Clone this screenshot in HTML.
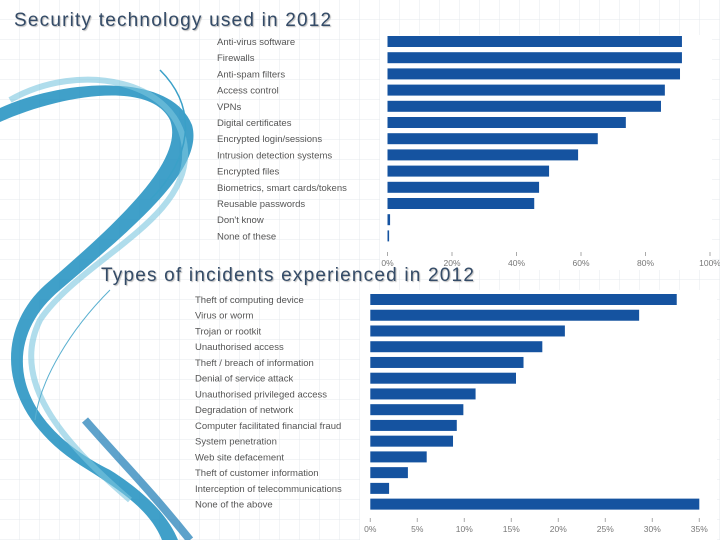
<!DOCTYPE html>
<html><head><meta charset="utf-8"><style>
body{margin:0;width:720px;height:540px;overflow:hidden;background:#fff;font-family:"Liberation Sans",sans-serif;position:relative}
#bg{position:absolute;left:0;top:0}
.title{position:absolute;font-family:"Liberation Sans",sans-serif;font-size:19px;letter-spacing:1.2px;color:#344b67;text-shadow:1px 1px 1px #bbb;white-space:nowrap}
</style></head><body>
<svg id="bg" width="720" height="540">
<defs><pattern id="g" width="20" height="20" patternUnits="userSpaceOnUse"><path d="M20 0V20H0" fill="none" stroke="#e4e8ec" stroke-width="1"/></pattern></defs>
<rect width="720" height="540" fill="url(#g)"/>
<path d="M0 108 C60 80 170 70 192 125 C205 170 130 230 60 290 C0 340 10 420 110 470 C150 495 170 520 178 540 L162 540 C150 510 120 490 80 465 C-5 410 -5 330 45 285 C120 220 185 160 170 120 C150 80 60 95 0 122 Z" fill="#1e8fc0" opacity="0.85"/>
<path d="M10 100 C80 60 180 80 185 150 C190 220 80 260 40 320 C10 380 60 440 130 500" fill="none" stroke="#7cc6e0" stroke-width="6" opacity="0.6"/>
<path d="M160 70 C200 110 190 160 150 200" fill="none" stroke="#3aa0c8" stroke-width="1.5"/>
<path d="M110 290 C70 330 40 380 35 420" fill="none" stroke="#5ab0d0" stroke-width="1"/>
<path d="M85 420 C120 460 150 490 190 540" fill="none" stroke="#1a7ab5" stroke-width="8" opacity="0.7"/>
<rect x="380" y="35" width="332" height="235" fill="#fff"/>
<rect x="360" y="290" width="357" height="250" fill="#fff"/>
</svg>
<div class="title" style="left:14px;top:10px">Security technology used in 2012</div>
<div class="title" style="left:101px;top:265px">Types of incidents experienced in 2012</div>
<svg id="c" width="720" height="540" style="position:absolute;left:0;top:0"></svg>
<script>
const techCats=["Anti-virus software","Firewalls","Anti-spam filters","Access control","VPNs","Digital certificates","Encrypted login/sessions","Intrusion detection systems","Encrypted files","Biometrics, smart cards/tokens","Reusable passwords","Don't know","None of these"];
const techVals=[91.3,91.3,90.7,86,84.8,73.9,65.2,59.1,50.1,47,45.5,0.8,0.5];
const techTicks=["0%","20%","40%","60%","80%","100%"];
const incCats=["Theft of computing device","Virus or worm","Trojan or rootkit","Unauthorised access","Theft / breach of information","Denial of service attack","Unauthorised privileged access","Degradation of network","Computer facilitated financial fraud","System penetration","Web site defacement","Theft of customer information","Interception of telecommunications","None of the above"];
const incVals=[32.6,28.6,20.7,18.3,16.3,15.5,11.2,9.9,9.2,8.8,6,4,2,35];
const incTicks=["0%","5%","10%","15%","20%","25%","30%","35%"];
const svg=document.getElementById('c');const NS="http://www.w3.org/2000/svg";
function mk(t,a){const e=document.createElementNS(NS,t);for(const k in a)e.setAttribute(k,a[k]);svg.appendChild(e);return e;}
function draw(cats,vals,ticks,max,x0,x1,y0,pitch,labX,axisY,p){
 const sx=v=>x0+(v/max)*(x1-x0);
 cats.forEach((c,i)=>{
  const y=y0+i*pitch;
  const t=mk('text',{x:labX,y:y+9,'font-size':'9.5','fill':'#555'});t.textContent=c;
  
  
  const r=mk('rect',{x:x0,y:y,width:sx(vals[i])-x0,height:11,fill:'#1553a0'});
  
  
 });
 ticks.forEach((tk,i)=>{
  const v=max*i/(ticks.length-1),x=sx(v);
  const l=mk('line',{x1:x,x2:x,y1:axisY,y2:axisY+4,stroke:'#aaa'});
  
  
  const t=mk('text',{x:x,y:axisY+14,'font-size':'8.5',fill:'#777','text-anchor':'middle'});t.textContent=tk;
  
  
 });
}
draw(techCats,techVals,techTicks,100,387.5,710,36,16.2,217,252,'tech');
draw(incCats,incVals,incTicks,35,370.3,699.3,294,15.74,195,518,'incident');
</script>
</body></html>
